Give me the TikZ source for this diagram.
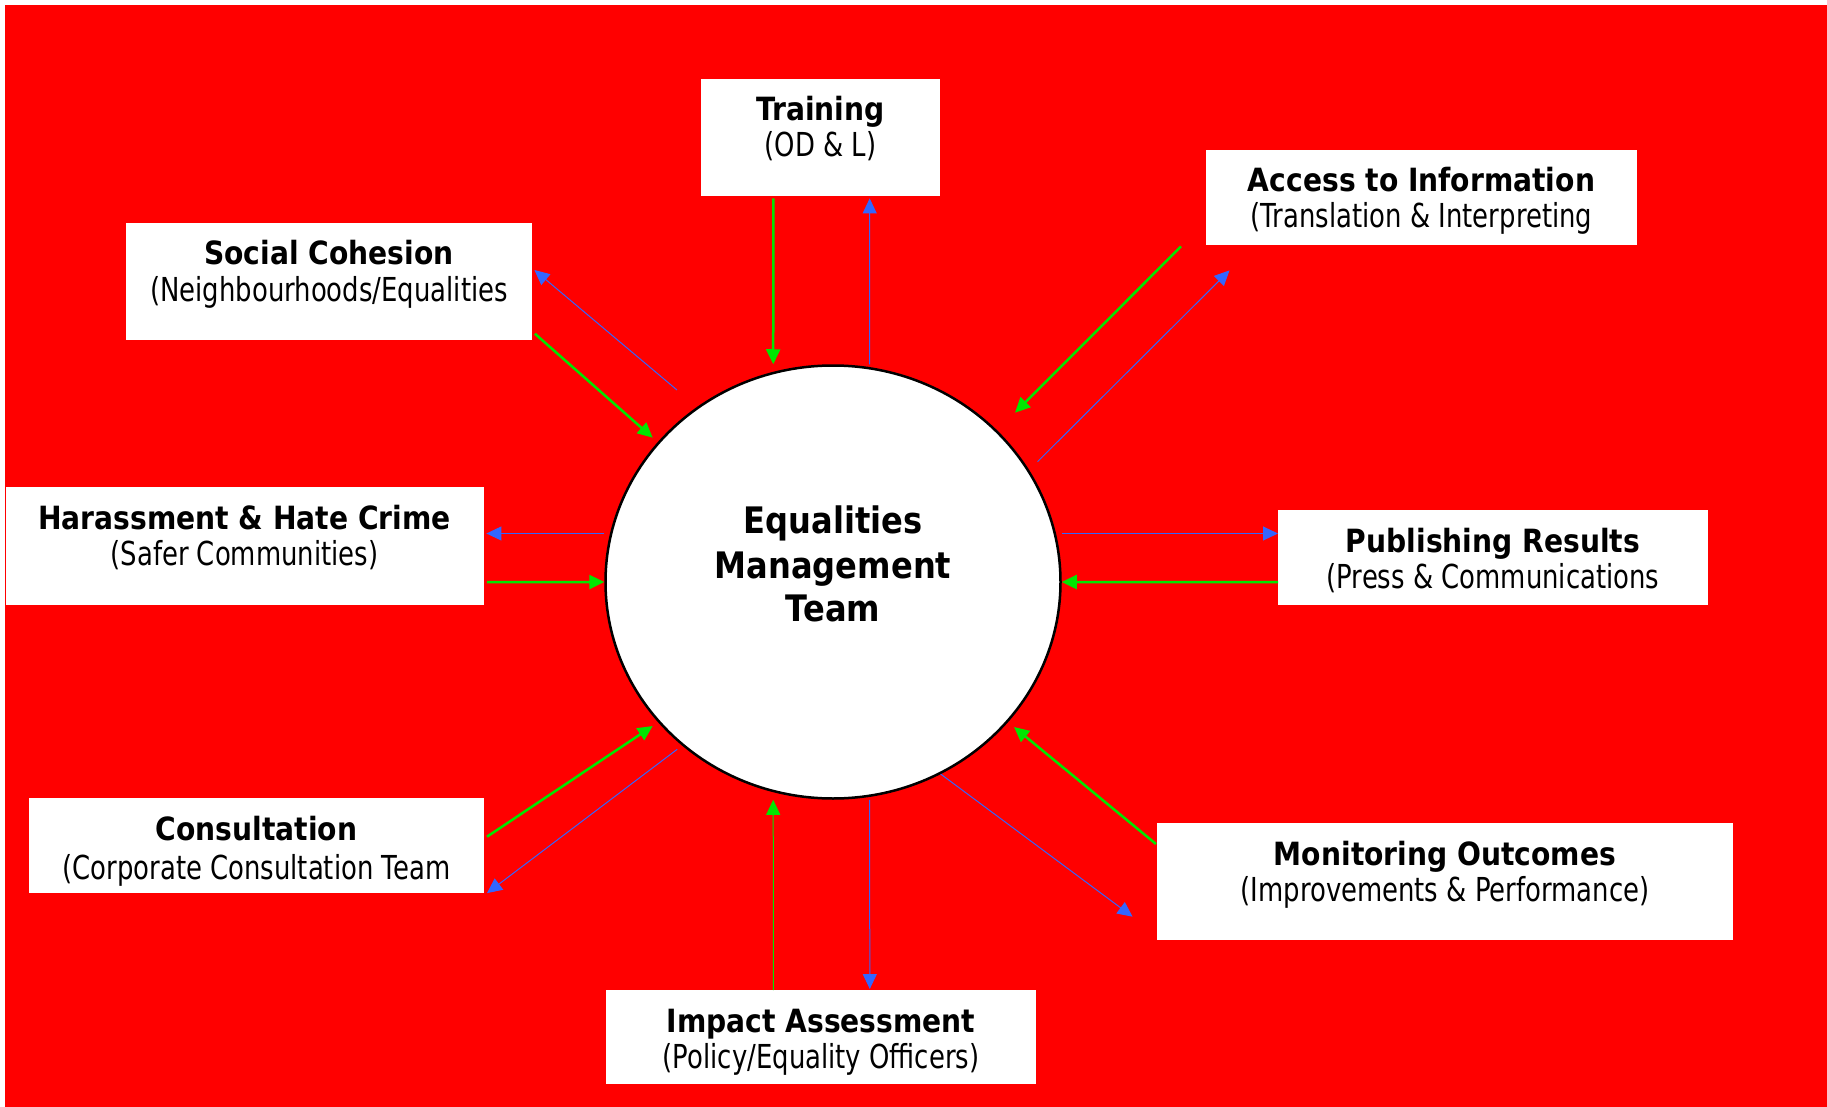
\documentclass[tikz,border=0pt]{standalone}
\usepackage{fontspec}
\newfontfamily\rfont{DejaVu Sans}[FakeStretch=0.785]
\newfontfamily\bfont{DejaVu Sans}[FakeStretch=0.88]
\usetikzlibrary{arrows.meta,shapes.geometric,calc}
\definecolor{bgred}{RGB}{255,0,0}
\definecolor{agreen}{RGB}{0,230,0}
\definecolor{ablue}{RGB}{51,102,255}
\begin{document}
\begin{tikzpicture}[x=1pt,y=-1pt,
  box/.style={fill=white, draw=none, inner sep=0pt, anchor=north west},
  ttl/.style={anchor=base, inner sep=0pt, font=\bfont\bfseries\fontsize{32}{38}\selectfont},
  sub/.style={anchor=base, inner sep=0pt, font=\rfont\fontsize{33}{38}\selectfont},
  ctr/.style={anchor=base, inner sep=0pt, font=\bfont\bfseries\fontsize{36.5}{44}\selectfont},
  garr/.style={draw=agreen, line width=2.5pt, -{Triangle[length=15pt,width=14pt]}},
  barr/.style={draw=ablue, line width=1pt, -{Triangle[length=15pt,width=14pt]}},
]
\useasboundingbox (0,0) rectangle (1827,1107);
\fill[white] (0,0) rectangle (1827,1107);
\fill[bgred] (5,5) rectangle (1827,1107);

% boxes
\node[box, minimum width=239pt, minimum height=117pt] (train) at (701,79) {};
\node[box, minimum width=431pt, minimum height=95pt] (acc) at (1206,150) {};
\node[box, minimum width=406pt, minimum height=117pt] (soc) at (126,223) {};
\node[box, minimum width=478pt, minimum height=118pt] (har) at (6,487) {};
\node[box, minimum width=430pt, minimum height=95pt] (pub) at (1278,510) {};
\node[box, minimum width=455pt, minimum height=95pt] (con) at (29,798) {};
\node[box, minimum width=576pt, minimum height=117pt] (mon) at (1157,823) {};
\node[box, minimum width=430pt, minimum height=94pt] (imp) at (606,990) {};

% labels
\node[ttl] (train-t) at (820.5,121) {Training};
\node[sub] (train-s) at (820.5,157) {(OD \& L)};
\node[ttl] (acc-t) at (1421.5,192) {Access to Information};
\node[sub] (acc-s) at (1421.5,228) {(Translation \& Interpreting};
\node[ttl] (soc-t) at (329,265) {Social Cohesion};
\node[sub] (soc-s) at (329,301) {(Neighbourhoods/Equalities};
\node[ttl] (har-t) at (244.5,529) {Harassment \& Hate Crime};
\node[sub] (har-s) at (244.5,565) {(Safer Communities)};
\node[ttl] (pub-t) at (1493,552) {Publishing Results};
\node[sub] (pub-s) at (1493,588) {(Press \& Communications};
\node[ttl] (con-t) at (256.5,840) {Consultation};
\node[sub] (con-s) at (256.5,879) {(Corporate Consultation Team};
\node[ttl] (mon-t) at (1445,865) {Monitoring Outcomes};
\node[sub] (mon-s) at (1445,901) {(Improvements \& Performance)};
\node[ttl] (imp-t) at (821,1032) {Impact Assessment};
\node[sub] (imp-s) at (821,1068) {(Policy/Equality Officers)};

% centre
\node[ellipse, draw=black, line width=2.5pt, fill=white, inner sep=0pt,
      minimum width=455pt, minimum height=433pt] (emt) at (833,582) {};
\node[ctr] (emt-a) at (833,533.3) {Equalities};
\node[ctr] (emt-b) at (833,578.3) {Management};
\node[ctr] (emt-c) at (833,621) {Team};

% connectors
\draw[garr] ([shift={(-47.3,2)}]train.south) -- ([shift={(-59.8,0)}]emt.north);
\draw[barr] ([shift={(36.6,0)}]emt.north) -- ([shift={(49,2)}]train.south);
\draw[garr] ([shift={(-25,1)}]acc.south west) -- ([shift={(182,-169.3)}]emt.center);
\draw[barr] ([shift={(204.5,-120.3)}]emt.center) -- ([shift={(23.5,25)}]acc.south west);
\draw[barr] ([shift={(-156,-192)}]emt.center) -- ([shift={(2,47)}]soc.north east);
\draw[garr] ([shift={(2.5,-6.7)}]soc.south east) -- ([shift={(-180.3,-144.3)}]emt.center);
\draw[barr] ([shift={(0,-48.5)}]emt.west) -- ([shift={(2,46.5)}]har.north east);
\draw[garr] ([shift={(2.5,-23.3)}]har.south east) -- (emt.west);
\draw[barr] ([shift={(0,-48.5)}]emt.east) -- ([shift={(0,23.5)}]pub.north west);
\draw[garr] ([shift={(0,-23.3)}]pub.south west) -- (emt.east);
\draw[garr] ([shift={(2.6,38.7)}]con.north east) -- ([shift={(-180.3,144)}]emt.center);
\draw[barr] ([shift={(-155.8,167.3)}]emt.center) -- ([shift={(2.6,-0.3)}]con.south east);
\draw[garr, line width=1pt] ([shift={(-47.8,0)}]imp.north) -- ([shift={(-59.8,0)}]emt.south);
\draw[barr] ([shift={(36.6,0)}]emt.south) -- ([shift={(48.6,-1)}]imp.north);
\draw[garr] ([shift={(-1,21)}]mon.north west) -- ([shift={(181,145)}]emt.center);
\draw[barr] ([shift={(107.6,192)}]emt.center) -- ([shift={(-24.4,93.7)}]mon.north west);
\end{tikzpicture}
\end{document}
